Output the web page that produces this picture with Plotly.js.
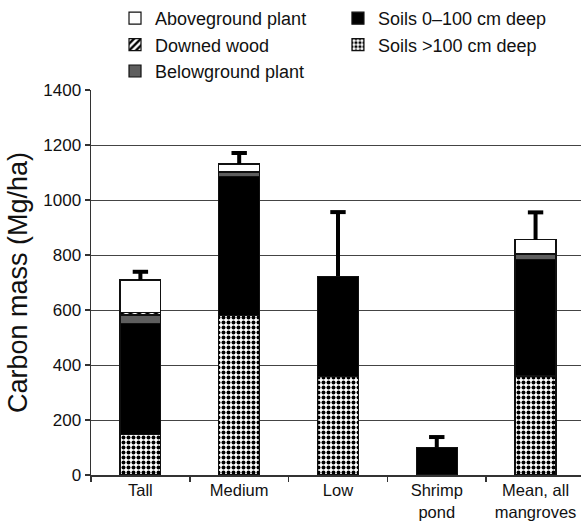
<!DOCTYPE html>
<html><head><meta charset="utf-8">
<script src="https://cdn.plot.ly/plotly-3.0.1.min.js"></script>
<style>html,body{margin:0;padding:0;background:#fff}#chart{width:581px;height:522px}</style>
</head><body><div id="chart"></div>
<script>
const categories = ['Tall', 'Medium', 'Low', 'Shrimp<br>pond', 'Mean, all<br>mangroves'];
const soilsDeep = [148, 580, 358, null, 360];
const soilsShallow = [402, 505, 365, 100, 424];
const belowground = [32, 16, null, null, 18];
const downedWood = [10, 2, null, null, 3];
const aboveground = [117, 28, null, null, 50];
const errorUp = [30, 40, 233, 38, 100];

const FONT = 'Liberation Sans, Arial, Helvetica, sans-serif';
const outline = {color: '#111', width: 1.2};
const totals = categories.map((c, i) =>
  [soilsDeep, soilsShallow, belowground, downedWood, aboveground]
    .reduce((s, a) => s + (a[i] || 0), 0));

// error stems: from stack top to top + error, separated by gaps
const stemX = [], stemY = [];
categories.forEach((c, i) => { stemX.push(c, c, null); stemY.push(totals[i], totals[i] + errorUp[i], null); });
const capY = totals.map((t, i) => t + errorUp[i]);

const traces = [
  {type: 'bar', name: 'Soils >100 cm deep', x: categories, y: soilsDeep, legend: 'legend2', legendrank: 2,
   marker: {color: '#fff', line: outline,
     pattern: {shape: '.', fgcolor: '#000', bgcolor: '#fff', size: 5, solidity: 0.5, fillmode: 'replace'}}},
  {type: 'bar', name: 'Soils 0–100 cm deep', x: categories, y: soilsShallow, legend: 'legend2', legendrank: 1,
   marker: {color: '#000', line: outline}},
  {type: 'bar', name: 'Belowground plant', x: categories, y: belowground, legend: 'legend', legendrank: 3,
   marker: {color: '#5e5e5e', line: outline}},
  {type: 'bar', name: 'Downed wood', x: categories, y: downedWood, legend: 'legend', legendrank: 2,
   marker: {color: '#fff', line: outline,
     pattern: {shape: '/', fgcolor: '#000', bgcolor: '#fff', size: 6, solidity: 0.5}}},
  {type: 'bar', name: 'Aboveground plant', x: categories, y: aboveground, legend: 'legend', legendrank: 1,
   marker: {color: '#fff', line: outline}},
  {type: 'scatter', mode: 'lines', x: stemX, y: stemY, showlegend: false, hoverinfo: 'skip',
   connectgaps: false, line: {color: '#000', width: 4}},
  {type: 'scatter', mode: 'markers', x: categories, y: capY, showlegend: false, hoverinfo: 'skip',
   marker: {symbol: 'line-ew-open', size: 11, color: '#000', line: {color: '#000', width: 4}}}
];

const legendBase = {orientation: 'v', xref: 'paper', yref: 'container', y: 1.006,
  xanchor: 'left', yanchor: 'top', traceorder: 'normal',
  font: {family: FONT, size: 18, color: '#111'}, bgcolor: 'rgba(0,0,0,0)'};

const layout = {
  width: 581, height: 522,
  margin: {l: 91, r: 0, t: 88, b: 47},
  paper_bgcolor: '#fff', plot_bgcolor: '#fff',
  font: {family: FONT, size: 17, color: '#111'},
  barmode: 'stack', bargap: 0.585,
  showlegend: true,
  legend: Object.assign({}, legendBase, {x: 0.049}),
  legend2: Object.assign({}, legendBase, {x: 0.504}),
  xaxis: {range: [-0.5, 4.46], showline: true, linecolor: '#333', linewidth: 1.5,
    ticks: 'outside', tickson: 'boundaries', ticklen: 5, tickcolor: '#333', tickwidth: 1.5,
    showgrid: false, zeroline: false, tickangle: 0, automargin: false,
    tickfont: {family: FONT, size: 16.5, color: '#111'}},
  yaxis: {range: [0, 1400], dtick: 200, showline: true, linecolor: '#333', linewidth: 1.5,
    ticks: 'outside', ticklen: 5, tickcolor: '#333', tickwidth: 1.5,
    showgrid: true, gridcolor: '#444', gridwidth: 1, zeroline: false, automargin: false,
    tickfont: {family: FONT, size: 17, color: '#111'},
    title: {text: 'Carbon mass (Mg/ha)', font: {family: FONT, size: 27, color: '#111'}}}
};

Plotly.newPlot('chart', traces, layout, {displayModeBar: false, staticPlot: true});
</script>
</body></html>
